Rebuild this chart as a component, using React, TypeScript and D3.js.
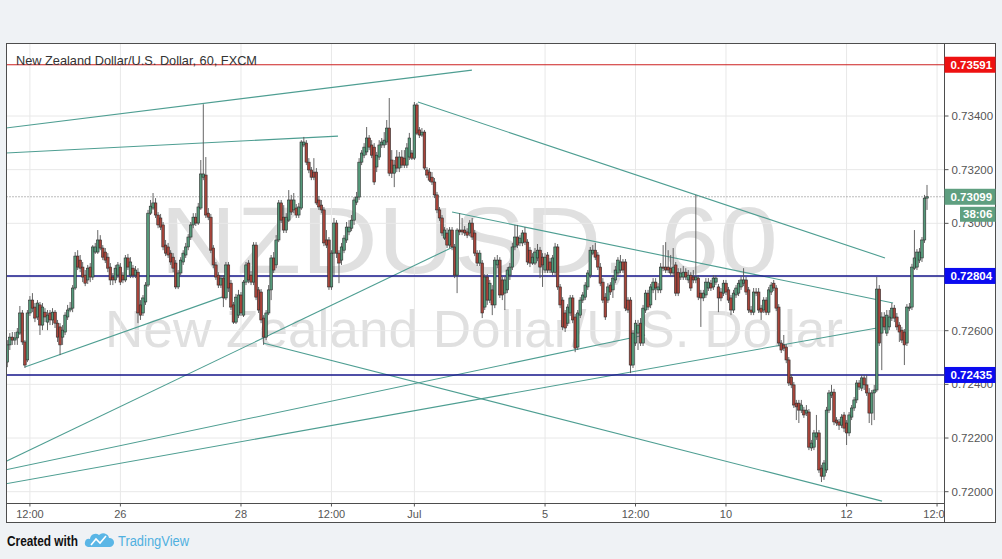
import React from 'react';
import * as d3 from 'd3';

// Hourly NZDUSD candles (FXCM)
const opens = [
0.72483,0.72547,0.72576,0.72565,0.72573,0.72591,0.72666,0.72558,0.72491,0.72666,0.72714,0.72688,
0.72651,0.72696,0.72621,0.72669,0.72632,0.72666,0.72640,0.72669,0.72628,0.72614,0.72576,0.72595,
0.72651,0.72677,0.72684,0.72759,0.72878,0.72863,0.72837,0.72807,0.72789,0.72837,0.72800,0.72893,
0.72893,0.72938,0.72908,0.72893,0.72874,0.72837,0.72800,0.72789,0.72807,0.72837,0.72807,0.72789,
0.72871,0.72807,0.72833,0.72807,0.72818,0.72696,0.72666,0.72707,0.72770,0.73038,0.73057,0.73076,
0.73031,0.73020,0.72994,0.72919,0.72912,0.72889,0.72874,0.72852,0.72763,0.72815,0.72856,0.72882,
0.72912,0.72949,0.72994,0.73023,0.73001,0.73057,0.73172,0.73180,0.73038,
0.73023,0.72908,0.72845,0.72807,0.72770,0.72796,0.72722,0.72845,0.72777,0.72696,0.72632,0.72658,0.72733,0.72658,0.72781,0.72852,
0.72807,0.72781,0.72919,0.72752,0.72744,0.72647,0.72576,0.72666,0.72752,0.72871,0.72845,0.72938,0.73076,0.73023,0.72975,0.73012,0.73087,0.73050,
0.73057,0.73031,0.73057,0.73292,0.73299,0.73228,0.73199,0.73191,0.73191,0.73087,0.73068,
0.73050,0.72938,0.72938,0.72763,0.72889,0.73001,0.72889,0.72863,0.72900,0.72938,
0.72968,0.72982,0.73012,0.73079,0.73098,0.73228,0.73254,0.73266,0.73318,0.73292,
0.73284,0.73210,0.73247,0.73292,0.73292,0.73303,0.73355,0.73236,0.73187,0.73247,
0.73206,0.73247,0.73243,0.73217,0.73247,0.73262,0.73243,0.73441,0.73348,0.73329,0.73340,
0.73199,0.73191,0.73172,0.73154,0.73106,0.73050,0.73020,
0.72945,0.72964,0.72919,0.72975,0.72912,0.72807,0.72975,0.72975,0.72975,0.72968,
0.72964,0.73001,0.72964,0.72889,0.72852,0.72852,0.72688,0.72800,0.72714,0.72752,
0.72696,0.72845,0.72863,0.72789,0.72740,0.72752,0.72807,0.72837,0.72912,0.72949,
0.72927,0.72927,0.72964,0.72930,0.72900,0.72852,0.72852,0.72871,0.72900,0.72874,
0.72826,0.72882,0.72856,0.72818,0.72818,0.72912,0.72763,0.72714,0.72666,0.72628,
0.72666,0.72722,0.72651,0.72539,0.72658,0.72714,0.72725,0.72763,0.72807,0.72889,0.72900,
0.72882,0.72837,0.72781,0.72725,0.72714,0.72770,0.72752,0.72789,0.72815,0.72826,
0.72856,0.72856,0.72714,0.72714,0.72472,0.72554,0.72591,0.72628,0.72554,0.72677,
0.72740,0.72696,0.72752,0.72781,0.72752,0.72752,0.72837,0.72837,0.72837,0.72833,
0.72815,0.72845,0.72818,0.72800,0.72800,0.72818,0.72789,0.72807,0.72800,0.72789,
0.72796,0.72740,0.72722,0.72733,0.72759,0.72777,0.72763,0.72781,0.72763,0.72744,
0.72740,0.72777,0.72752,0.72722,0.72677,0.72733,0.72740,0.72763,0.72777,
0.72789,0.72752,0.72677,
0.72669,0.72744,0.72744,0.72684,0.72677,0.72714,0.72669,0.72744,0.72777,
0.72759,0.72688,0.72554,0.72547,0.72539,0.72491,0.72427,
0.72398,0.72330,0.72330,0.72304,0.72304,0.72293,0.72297,
0.72163,0.72166,0.72204,0.72219,0.72088,0.72058,0.72081,0.72304,0.72360,0.72371,
0.72267,0.72260,0.72248,0.72286,0.72256,0.72219,0.72278,0.72312,0.72342,0.72405,
0.72386,0.72424,0.72398,0.72368,0.72293,0.72368,0.72379,0.72755,0.72591,0.72651,
0.72591,0.72614,0.72647,0.72684,0.72651,0.72621,0.72602,0.72595,
0.72554,0.72684,0.72688,0.72833,0.72837,0.72863,0.72871,0.72938,0.73094
];

const highs = [
0.72565,0.72591,0.72595,0.72595,0.72610,0.72692,0.72677,0.72565,0.72677,0.72729,0.72740,0.72703,
0.72714,0.72707,0.72703,0.72684,0.72677,0.72677,0.72684,0.72677,0.72640,0.72628,0.72621,0.72669,
0.72696,0.72707,0.72770,0.72893,0.72900,0.72882,0.72856,0.72826,0.72845,0.72852,0.72919,0.72927,
0.72975,0.72956,0.72919,0.72908,0.72889,0.72852,0.72815,0.72845,0.72856,0.72852,0.72818,0.72882,
0.72886,0.72874,0.72845,0.72841,0.72833,0.72714,0.72733,0.72781,0.73050,0.73087,0.73113,0.73094,
0.73042,0.73035,0.73005,0.72938,0.72927,0.72900,0.72889,0.72863,0.72826,0.72874,0.72900,0.72927,
0.72960,0.73005,0.73038,0.73038,0.73076,0.73236,0.73444,0.73247,0.73057,
0.73035,0.72919,0.72856,0.72818,0.72807,0.72807,0.72856,0.72856,0.72789,0.72707,0.72737,0.72752,0.72744,0.72789,0.72856,0.72863,
0.72822,0.72930,0.72930,0.72763,0.72755,0.72658,0.72677,0.72770,0.72882,0.72893,0.72956,0.73087,0.73087,0.73068,0.73038,0.73124,0.73106,0.73113,
0.73072,0.73076,0.73310,0.73322,0.73310,0.73243,0.73210,0.73243,0.73206,0.73102,0.73087,
0.73061,0.72975,0.72949,0.72900,0.73020,0.73012,0.72900,0.72927,0.72956,0.73005,
0.73012,0.73031,0.73098,0.73117,0.73243,0.73273,0.73299,0.73359,0.73329,0.73310,
0.73299,0.73266,0.73310,0.73318,0.73340,0.73385,0.73467,0.73273,0.73236,0.73273,
0.73266,0.73273,0.73273,0.73299,0.73337,0.73273,0.73452,0.73448,0.73359,0.73355,0.73348,
0.73210,0.73206,0.73191,0.73169,0.73117,0.73061,0.73031,
0.72986,0.72982,0.72986,0.72986,0.72923,0.72982,0.73038,0.73020,0.72990,0.72982,
0.73012,0.73020,0.72975,0.72900,0.72900,0.72863,0.72811,0.72811,0.72789,0.72770,
0.72874,0.72882,0.72874,0.72800,0.72800,0.72837,0.72852,0.72927,0.72994,0.72994,
0.72956,0.72975,0.72986,0.72941,0.72912,0.72889,0.72908,0.72923,0.72912,0.72889,
0.72889,0.72893,0.72871,0.72882,0.72927,0.72923,0.72774,0.72725,0.72677,0.72699,
0.72733,0.72733,0.72662,0.72677,0.72725,0.72744,0.72781,0.72826,0.72912,0.72919,0.72927,
0.72893,0.72852,0.72796,0.72740,0.72777,0.72781,0.72807,0.72841,0.72874,0.72882,
0.72867,0.72867,0.72725,0.72725,0.72602,0.72640,0.72640,0.72647,0.72696,0.72752,
0.72752,0.72774,0.72796,0.72796,0.72777,0.72852,0.72919,0.72930,0.72900,0.72882,
0.72908,0.72856,0.72833,0.72833,0.72841,0.72833,0.72826,0.72818,0.72826,0.73106,
0.72807,0.72752,0.72752,0.72796,0.72796,0.72789,0.72807,0.72807,0.72774,0.72759,
0.72789,0.72789,0.72763,0.72733,0.72752,0.72770,0.72789,0.72800,0.72833,
0.72800,0.72763,0.72692,
0.72759,0.72759,0.72759,0.72696,0.72725,0.72725,0.72763,0.72781,0.72789,
0.72770,0.72699,0.72565,0.72584,0.72550,0.72502,0.72438,
0.72409,0.72342,0.72342,0.72342,0.72316,0.72323,0.72308,
0.72193,0.72230,0.72286,0.72230,0.72100,0.72118,0.72316,0.72379,0.72398,0.72383,
0.72278,0.72271,0.72289,0.72297,0.72267,0.72297,0.72323,0.72353,0.72416,0.72416,
0.72435,0.72435,0.72435,0.72386,0.72379,0.72398,0.72800,0.72770,0.72669,0.72669,
0.72677,0.72677,0.72703,0.72696,0.72666,0.72632,0.72614,0.72606,
0.72699,0.72703,0.72849,0.72975,0.72904,0.72908,0.72949,0.73106,0.73143
];

const lows = [
0.72464,0.72528,0.72547,0.72547,0.72547,0.72584,0.72547,0.72461,0.72483,0.72655,0.72669,0.72632,
0.72640,0.72584,0.72602,0.72632,0.72602,0.72621,0.72621,0.72610,0.72558,0.72509,0.72547,0.72584,
0.72640,0.72669,0.72669,0.72752,0.72826,0.72818,0.72781,0.72766,0.72774,0.72781,0.72789,0.72886,
0.72886,0.72900,0.72863,0.72852,0.72818,0.72770,0.72770,0.72777,0.72796,0.72770,0.72777,0.72781,
0.72826,0.72796,0.72796,0.72796,0.72628,0.72640,0.72655,0.72696,0.72763,0.73031,0.73050,0.73020,
0.72982,0.72975,0.72900,0.72878,0.72871,0.72845,0.72818,0.72755,0.72755,0.72807,0.72845,0.72871,
0.72900,0.72938,0.72982,0.72990,0.72994,0.73050,0.73161,0.73020,0.73012,
0.72889,0.72833,0.72789,0.72759,0.72759,0.72688,0.72714,0.72744,0.72677,0.72625,0.72625,0.72647,0.72655,0.72651,0.72770,0.72777,
0.72770,0.72770,0.72714,0.72666,0.72628,0.72547,0.72565,0.72658,0.72714,0.72815,0.72833,0.72930,0.73001,0.72964,0.72964,0.73005,0.73031,0.73038,
0.73020,0.73020,0.73050,0.73284,0.73217,0.73187,0.73161,0.73161,0.73068,0.73050,0.73038,
0.72915,0.72908,0.72752,0.72752,0.72807,0.72871,0.72777,0.72845,0.72889,0.72927,
0.72956,0.72971,0.72994,0.73068,0.73087,0.73217,0.73243,0.73254,0.73273,0.73243,
0.73143,0.73191,0.73236,0.73281,0.73281,0.73292,0.73176,0.73169,0.73135,0.73191,
0.73191,0.73206,0.73206,0.73206,0.73236,0.73236,0.73236,0.73329,0.73318,0.73322,0.73199,
0.73169,0.73154,0.73143,0.73094,0.73038,0.73009,0.72953,
0.72938,0.72908,0.72908,0.72900,0.72796,0.72740,0.72956,0.72956,0.72953,0.72945,
0.72953,0.72938,0.72878,0.72841,0.72841,0.72647,0.72677,0.72696,0.72703,0.72658,
0.72684,0.72833,0.72722,0.72714,0.72677,0.72740,0.72789,0.72826,0.72900,0.72908,
0.72915,0.72915,0.72919,0.72845,0.72837,0.72845,0.72845,0.72859,0.72796,0.72763,
0.72815,0.72815,0.72815,0.72807,0.72807,0.72752,0.72684,0.72602,0.72595,0.72617,
0.72655,0.72628,0.72520,0.72528,0.72647,0.72703,0.72714,0.72752,0.72796,0.72882,0.72863,
0.72826,0.72766,0.72703,0.72640,0.72703,0.72733,0.72722,0.72777,0.72804,0.72815,
0.72815,0.72673,0.72666,0.72442,0.72461,0.72543,0.72528,0.72543,0.72543,0.72666,
0.72677,0.72684,0.72740,0.72714,0.72740,0.72740,0.72822,0.72815,0.72815,0.72804,
0.72804,0.72729,0.72729,0.72789,0.72789,0.72789,0.72777,0.72748,0.72777,0.72777,
0.72714,0.72614,0.72710,0.72722,0.72748,0.72748,0.72752,0.72770,0.72669,0.72710,
0.72729,0.72733,0.72703,0.72658,0.72666,0.72722,0.72729,0.72752,0.72766,
0.72733,0.72666,0.72658,
0.72658,0.72729,0.72666,0.72640,0.72666,0.72658,0.72658,0.72733,0.72748,
0.72673,0.72543,0.72517,0.72524,0.72479,0.72394,0.72386,
0.72312,0.72267,0.72256,0.72293,0.72275,0.72282,0.72155,
0.72152,0.72155,0.72193,0.72070,0.72036,0.72044,0.72070,0.72293,0.72349,0.72248,
0.72245,0.72230,0.72237,0.72222,0.72174,0.72207,0.72267,0.72301,0.72330,0.72379,
0.72375,0.72379,0.72357,0.72256,0.72248,0.72267,0.72371,0.72543,0.72453,0.72602,
0.72580,0.72602,0.72636,0.72632,0.72602,0.72558,0.72554,0.72472,
0.72543,0.72673,0.72677,0.72826,0.72826,0.72852,0.72856,0.72927,0.73050
];

const closes = [
0.72547,0.72576,0.72565,0.72573,0.72595,0.72666,0.72558,0.72472,0.72666,0.72714,0.72684,0.72647,
0.72703,0.72621,0.72688,0.72651,0.72658,0.72640,0.72669,0.72628,0.72576,0.72547,0.72602,0.72658,
0.72677,0.72684,0.72759,0.72878,0.72837,0.72833,0.72800,0.72777,0.72833,0.72800,0.72912,0.72912,
0.72938,0.72908,0.72874,0.72863,0.72833,0.72789,0.72789,0.72833,0.72845,0.72781,0.72789,0.72871,
0.72837,0.72856,0.72807,0.72826,0.72666,0.72658,0.72722,0.72770,0.73038,0.73064,0.73076,0.73031,
0.72994,0.72986,0.72912,0.72889,0.72882,0.72856,0.72833,0.72763,0.72815,0.72863,0.72889,0.72912,
0.72949,0.72994,0.73023,0.73001,0.73061,0.73184,0.73184,0.73031,0.73023,
0.72900,0.72845,0.72800,0.72770,0.72796,0.72722,0.72845,0.72759,0.72688,0.72632,0.72725,0.72733,0.72666,0.72781,0.72845,0.72789,
0.72781,0.72919,0.72725,0.72677,0.72640,0.72576,0.72666,0.72752,0.72871,0.72826,0.72938,0.73076,0.73012,0.72975,0.73023,0.73087,0.73042,0.73087,
0.73031,0.73061,0.73303,0.73303,0.73228,0.73199,0.73172,0.73172,0.73076,0.73061,0.73050,
0.72927,0.72919,0.72763,0.72889,0.73001,0.72889,0.72852,0.72912,0.72945,0.72986,
0.72986,0.73012,0.73087,0.73098,0.73228,0.73262,0.73284,0.73318,0.73284,0.73254,
0.73154,0.73254,0.73292,0.73303,0.73310,0.73355,0.73187,0.73187,0.73217,0.73206,
0.73247,0.73217,0.73217,0.73281,0.73318,0.73243,0.73441,0.73336,0.73329,0.73340,0.73206,
0.73180,0.73161,0.73154,0.73106,0.73050,0.73020,0.72964,
0.72975,0.72919,0.72975,0.72912,0.72807,0.72975,0.72968,0.72968,0.72964,0.72956,
0.73001,0.72949,0.72889,0.72852,0.72889,0.72666,0.72800,0.72714,0.72777,0.72696,
0.72863,0.72863,0.72733,0.72733,0.72789,0.72826,0.72837,0.72912,0.72949,0.72919,
0.72945,0.72964,0.72930,0.72856,0.72852,0.72874,0.72893,0.72900,0.72837,0.72845,
0.72874,0.72826,0.72826,0.72871,0.72912,0.72763,0.72696,0.72614,0.72610,0.72688,
0.72722,0.72640,0.72535,0.72666,0.72714,0.72733,0.72770,0.72815,0.72900,0.72900,0.72874,
0.72837,0.72777,0.72714,0.72651,0.72763,0.72744,0.72796,0.72826,0.72863,0.72856,
0.72826,0.72684,0.72677,0.72472,0.72591,0.72628,0.72621,0.72554,0.72684,0.72740,
0.72688,0.72763,0.72781,0.72759,0.72763,0.72837,0.72833,0.72826,0.72826,0.72815,
0.72837,0.72740,0.72740,0.72815,0.72818,0.72800,0.72807,0.72759,0.72789,0.72800,
0.72725,0.72722,0.72740,0.72781,0.72781,0.72759,0.72796,0.72796,0.72722,0.72722,
0.72777,0.72744,0.72714,0.72677,0.72740,0.72759,0.72777,0.72789,0.72789,
0.72744,0.72677,0.72669,
0.72744,0.72740,0.72677,0.72669,0.72714,0.72669,0.72752,0.72770,0.72759,
0.72684,0.72554,0.72528,0.72535,0.72491,0.72405,0.72398,
0.72323,0.72316,0.72304,0.72323,0.72286,0.72304,0.72166,
0.72181,0.72219,0.72219,0.72081,0.72058,0.72107,0.72304,0.72368,0.72371,0.72260,
0.72256,0.72248,0.72278,0.72237,0.72219,0.72286,0.72312,0.72342,0.72405,0.72390,
0.72424,0.72398,0.72368,0.72293,0.72368,0.72379,0.72755,0.72554,0.72651,0.72614,
0.72658,0.72651,0.72684,0.72647,0.72614,0.72595,0.72565,0.72547,
0.72688,0.72688,0.72837,0.72871,0.72893,0.72893,0.72938,0.73094,0.73099
];

const priceTicks = [0.72, 0.722, 0.724, 0.726, 0.728, 0.73, 0.732, 0.734];
const timeTickIndex = [9, 45, 93, 129, 162, 214, 250, 286, 334, 370];
const timeTickLabels = ['12:00', '26', '28', '12:00', 'Jul', '5', '12:00', '10', '12', '12:00'];

const resistanceLevel = 0.73591;
const supportLevels = [0.72804, 0.72435];
const lastPrice = 0.73099;
const countdown = '38:06';

// drawn trend lines: start/end bar index and price
const trendStartIndex = [-0.9, -0.9, 163.4, 177, 7, -0.9, -0.9, -0.9, 101.8];
const trendStartPrice = [0.73355, 0.73262, 0.73452, 0.73042, 0.72465, 0.72111, 0.72081, 0.72029, 0.72554];
const trendEndIndex = [184.9, 131.6, 349.3, 352.5, 85.4, 177.4, 253.8, 346.1, 348.1];
const trendEndPrice = [0.73571, 0.73325, 0.72871, 0.72703, 0.72725, 0.72912, 0.72584, 0.7261, 0.71965];

const title = 'New Zealand Dollar/U.S. Dollar, 60, FXCM';
const watermarkSymbol = 'NZDUSD, 60';
const watermarkName = 'New Zealand Dollar/U.S. Dollar';

export default function App() {
  const W = 1002, H = 559;
  const left = 6.5, right = 944.5, top = 43.5, bottom = 503.5;
  const outerRight = 995.5, outerBottom = 522.5;
  const x = d3.scaleLinear().domain([0, 366]).range([7.3, 927]);
  const y = d3.scaleLinear().domain([0.72, 0.734]).range([491.7, 116]);
  const font = '"Liberation Sans", Arial, Helvetica, sans-serif';
  const fmt = d3.format('.5f');
  const green = '#55997a';
  const red = '#a8443a';
  const teal = '#4e9e92';
  const boxW = outerRight - right;

  const labelBox = (p: number, fill: string, key: string) => (
    <g key={key}>
      <rect x={right} y={y(p) - 8} width={boxW} height={16} fill={fill} />
      <text x={right + 6} y={y(p) + 4} fill="#fff" fontSize={11.5} fontWeight="bold" fontFamily={font}>{fmt(p)}</text>
    </g>
  );

  return (
    <svg width={W} height={H} style={{ position: 'absolute', left: 0, top: 0, display: 'block' }}>
      <defs>
        <clipPath id="plotClip"><rect x={left} y={top} width={right - left} height={bottom - top} /></clipPath>
        <clipPath id="timeClip"><rect x={left} y={bottom} width={right - left} height={outerBottom - bottom} /></clipPath>
      </defs>
      <rect x={0} y={0} width={W} height={H} fill="#eff2f5" />
      <rect x={left} y={top} width={outerRight - left} height={outerBottom - top} fill="#ffffff" />

      <g clipPath="url(#plotClip)">
        <text x={160} y={273} fontSize={95} fontFamily={font} fill="#e0e0e0" textLength={618} lengthAdjust="spacingAndGlyphs">{watermarkSymbol}</text>
        <text x={105} y={347} fontSize={52} fontFamily={font} fill="#e0e0e0" textLength={738} lengthAdjust="spacingAndGlyphs">{watermarkName}</text>

        {priceTicks.map((p) => (
          <line key={'hg' + p} x1={left} x2={right} y1={y(p)} y2={y(p)} stroke="#e8e8e8" strokeWidth={1} />
        ))}
        {timeTickIndex.map((t, k) => (
          <line key={'vg' + k} x1={x(t)} x2={x(t)} y1={top} y2={bottom} stroke="#e8e8e8" strokeWidth={1} />
        ))}

        {trendStartIndex.map((s, k) => (
          <line key={'tl' + k} x1={x(s)} y1={y(trendStartPrice[k])} x2={x(trendEndIndex[k])} y2={y(trendEndPrice[k])}
            stroke={teal} strokeWidth={1.1} />
        ))}

        <line x1={left} x2={right} y1={y(lastPrice)} y2={y(lastPrice)} stroke="#777" strokeWidth={1} strokeDasharray="1,2" />
        <line x1={left} x2={right} y1={y(resistanceLevel)} y2={y(resistanceLevel)} stroke="#cc2020" strokeWidth={1.1} />
        {supportLevels.map((p) => (
          <line key={'sl' + p} x1={left} x2={right} y1={y(p)} y2={y(p)} stroke="#15158a" strokeWidth={1.6} />
        ))}

        {opens.map((o, i) => {
          const c = closes[i];
          const up = c >= o;
          const cx = x(i);
          const yt = y(Math.max(o, c));
          const yb = y(Math.min(o, c));
          return (
            <g key={'c' + i}>
              <line x1={cx} x2={cx} y1={y(highs[i])} y2={y(lows[i])} stroke="#555" strokeWidth={0.9} />
              <rect x={cx - 1.3} y={yt} width={2.6} height={Math.max(1, yb - yt)} fill={up ? green : red} stroke="#2c2c2c" strokeWidth={0.6} />
            </g>
          );
        })}

        <text x={16} y={65} fontSize={13} fontFamily={font} fill="#333" textLength={241} lengthAdjust="spacingAndGlyphs">{title}</text>
      </g>

      {/* frame */}
      <rect x={left} y={top} width={outerRight - left} height={outerBottom - top} fill="none" stroke="#4d4d4d" strokeWidth={1} />
      <line x1={right} x2={right} y1={top} y2={outerBottom} stroke="#4d4d4d" strokeWidth={1} />
      <line x1={left} x2={right} y1={bottom} y2={bottom} stroke="#4d4d4d" strokeWidth={1} />

      {/* price axis */}
      {priceTicks.map((p) => (
        <g key={'pt' + p}>
          <line x1={right} x2={right + 4} y1={y(p)} y2={y(p)} stroke="#555" strokeWidth={1} />
          <text x={right + 7} y={y(p) + 4} fontSize={11.5} fontFamily={font} fill="#555">{fmt(p)}</text>
        </g>
      ))}
      {labelBox(resistanceLevel, '#ee1111', 'rb')}
      {supportLevels.map((p, k) => labelBox(p, '#0b0bf0', 'bb' + k))}
      {labelBox(lastPrice, '#5f9f80', 'lp')}
      <rect x={960} y={y(lastPrice) + 10} width={outerRight - 960} height={15} fill="#5f9f80" />
      <text x={963} y={y(lastPrice) + 21.5} fill="#fff" fontSize={11.5} fontWeight="bold" fontFamily={font}>{countdown}</text>

      {/* time axis */}
      <g clipPath="url(#timeClip)">
        {timeTickIndex.map((t, k) => (
          <g key={'tt' + k}>
            <line x1={x(t)} x2={x(t)} y1={bottom} y2={bottom + 3} stroke="#555" strokeWidth={1} />
            <text x={x(t)} y={518} fontSize={11} fontFamily={font} fill="#555" textAnchor="middle">{timeTickLabels[k]}</text>
          </g>
        ))}
      </g>

      {/* footer */}
      <text x={7} y={546} fontSize={14} fontWeight="bold" fontFamily={font} fill="#111" textLength={71} lengthAdjust="spacingAndGlyphs">Created with</text>
      <path d="M88,547 L110,547 A4.5,4.5 0 0 0 109,538 A6,6 0 0 0 99,535 A5.5,5.5 0 0 0 90,539 A4,4 0 0 0 88,547 Z" fill="#5ab6e6" />
      <polyline points="91,545 96,539 100,543 106,536" fill="none" stroke="#ffffff" strokeWidth={1.6} />
      <text x={118} y={546} fontSize={14} fontFamily={font} fill="#4fb0e0" textLength={71} lengthAdjust="spacingAndGlyphs">TradingView</text>
    </svg>
  );
}
